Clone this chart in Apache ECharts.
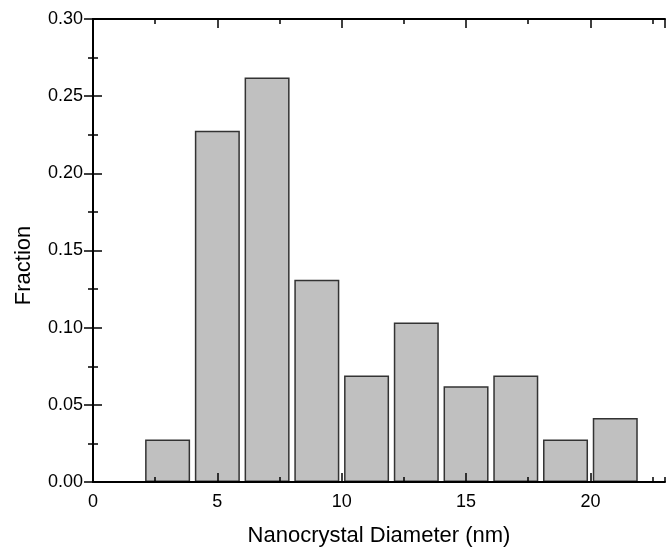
<!DOCTYPE html>
<html>
<head>
<meta charset="utf-8">
<script src="https://cdn.jsdelivr.net/npm/echarts@6/dist/echarts.min.js"></script>
<style>
  html, body { margin: 0; padding: 0; background: #fff; }
  #main { width: 666px; height: 552px; }
</style>
</head>
<body>
<div id="main"></div>
<script>
// bin centres (nm) and fraction of particles in each bin
const diameters = [3, 5, 7, 9, 11, 13, 15, 17, 19, 21];
const fractions = [0.0276, 0.2276, 0.2621, 0.1310, 0.0690, 0.1034, 0.0621, 0.0690, 0.0276, 0.0414];
const xTicks = [0, 5, 10, 15, 20];
const yTicks = [0, 0.05, 0.10, 0.15, 0.20, 0.25, 0.30];

const font = 'Liberation Sans, Arial, sans-serif';
const black = '#000';

const chart = echarts.init(document.getElementById('main'));

const lineStyle = { color: black, width: 2 };
const tickStyle = { color: black, width: 1.5 };

chart.setOption({
    animation: false,
    grid: { left: 93, top: 19, width: 572, height: 465 },
    xAxis: [
        {
            type: 'value', position: 'bottom', min: 0, max: 23, interval: 5, z: 5,
            axisLine: { lineStyle: lineStyle },
            axisTick: { inside: true, length: 9, lineStyle: tickStyle },
            splitLine: { show: false },
            axisLabel: {
                color: black, fontFamily: font, fontSize: 18, margin: 11,
                showMaxLabel: false,
                formatter: v => xTicks.includes(v) ? String(v) : ''
            },
            name: 'Nanocrystal Diameter (nm)',
            nameLocation: 'middle', nameGap: 43,
            nameTextStyle: { color: black, fontFamily: font, fontSize: 22 }
        },
        {
            type: 'value', position: 'bottom', min: 0, max: 23, interval: 2.5, z: 5,
            axisLine: { show: false },
            axisTick: { inside: true, length: 5, lineStyle: tickStyle },
            axisLabel: { show: false }, splitLine: { show: false }
        },
        {
            type: 'value', position: 'top', min: 0, max: 23, interval: 5, z: 5,
            axisLine: { lineStyle: lineStyle },
            axisTick: { inside: true, length: 9, lineStyle: tickStyle },
            axisLabel: { show: false }, splitLine: { show: false }
        },
        {
            type: 'value', position: 'top', min: 0, max: 23, interval: 2.5, z: 5,
            axisLine: { show: false },
            axisTick: { inside: true, length: 5, lineStyle: tickStyle },
            axisLabel: { show: false }, splitLine: { show: false }
        }
    ],
    yAxis: [
        {
            type: 'value', position: 'left', min: 0, max: 0.3, interval: 0.05, z: 5,
            axisLine: { show: true, lineStyle: lineStyle },
            axisTick: { show: true, inside: true, length: 9, lineStyle: tickStyle },
            minorTick: { show: true, splitNumber: 2, length: 5, lineStyle: tickStyle },
            splitLine: { show: false },
            axisLabel: {
                color: black, fontFamily: font, fontSize: 18, margin: 10,
                formatter: v => yTicks.some(t => Math.abs(t - v) < 1e-9) ? v.toFixed(2) : ''
            },
            name: 'Fraction',
            nameLocation: 'middle', nameGap: 58,
            nameTextStyle: { color: black, fontFamily: font, fontSize: 22, padding: [0, 30, 0, 0] }
        },
        {
            type: 'value', position: 'right', min: 0, max: 0.3, interval: 0.05, z: 5,
            axisLine: { show: true, lineStyle: lineStyle },
            axisTick: { show: true, inside: true, length: 9, lineStyle: tickStyle },
            minorTick: { show: true, splitNumber: 2, length: 5, lineStyle: tickStyle },
            splitLine: { show: false },
            axisLabel: { show: false }
        }
    ],
    series: [{
        type: 'bar',
        xAxisIndex: 0,
        yAxisIndex: 0,
        barWidth: 45,
        data: diameters.map((d, i) => [d, fractions[i]]),
        itemStyle: { color: '#c0c0c0', borderColor: '#333', borderWidth: 1.5 }
    }]
});
</script>
</body>
</html>
